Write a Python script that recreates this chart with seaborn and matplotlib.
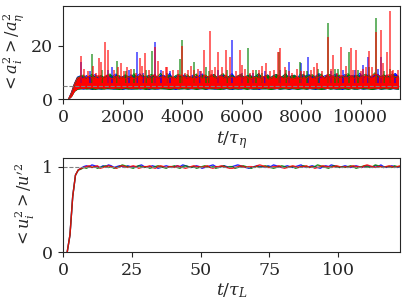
import numpy as np
import matplotlib
matplotlib.use("Agg")
import matplotlib.pyplot as plt
import seaborn as sns

# acceleration variance: the dense part of each signal is kept as its
# lower/upper envelope every 100 tau_eta (from t=180), the bursts as spikes
a_t0, a_dt = 180, 100
red_lo = [0.0, 1.0, 3.0, 3.9, 4.1, 4.0, 4.2, 4.1, 4.3, 4.0, 4.1, 4.2, 4.0, 4.3,
          4.1, 4.0, 4.2, 4.1, 4.0, 4.3, 4.2, 4.0, 4.1, 4.2, 4.0, 4.1, 4.3, 4.0,
          4.2, 4.1, 4.0, 4.2, 4.3, 4.1, 4.0, 4.2, 4.1, 4.0, 4.3, 4.1, 4.2, 4.0,
          4.1, 4.2, 4.0, 4.3, 4.1, 4.0, 4.2, 4.1, 4.0, 4.2, 4.1, 4.3, 4.0, 4.1,
          4.2, 4.0, 4.1, 4.3, 4.2, 4.0, 4.1, 4.2, 4.0, 4.1, 4.3, 4.0, 4.2, 4.1,
          4.0, 4.2, 4.3, 4.1, 4.0, 4.2, 4.1, 4.0, 4.3, 4.1, 4.2, 4.0, 4.1, 4.2,
          4.0, 4.3, 4.1, 4.0, 4.2, 4.1, 4.0, 4.2, 4.1, 4.3, 4.0, 4.1, 4.2, 4.0,
          4.1, 4.3, 4.2, 4.0, 4.1, 4.2, 4.0, 4.1, 4.3, 4.0, 4.2, 4.1, 4.0, 4.2]
red_hi = [0.0, 2.4, 5.6, 7.9, 8.3, 7.6, 8.1, 8.7, 7.8, 8.2, 8.9, 7.7, 8.4, 9.0,
          8.0, 7.6, 8.5, 7.9, 8.3, 7.5, 8.1, 8.6, 7.7, 8.2, 8.9, 7.8, 8.3, 7.5,
          8.7, 9.2, 7.9, 8.2, 8.5, 7.6, 8.0, 8.4, 7.7, 8.8, 9.1, 7.9, 8.1, 8.3,
          7.6, 8.6, 8.0, 7.8, 8.9, 8.2, 9.3, 7.7, 8.1, 8.7, 7.9, 9.0, 7.6, 8.3,
          8.0, 8.8, 7.8, 8.2, 8.5, 7.5, 7.9, 8.3, 7.7, 8.1, 8.6, 7.4, 7.8, 8.4,
          7.6, 8.9, 8.0, 7.7, 8.2, 7.5, 7.9, 8.3, 7.6, 8.1, 7.8, 8.5, 7.7, 8.0,
          8.2, 8.6, 7.9, 9.2, 8.1, 8.7, 7.8, 8.3, 8.9, 8.0, 8.2, 8.8, 7.7, 8.5,
          7.9, 8.3, 8.7, 8.1, 8.6, 9.4, 9.1, 8.0, 8.4, 8.9, 9.2, 8.1, 8.5, 8.2]
blue_lo = [0.0, 1.1, 3.1, 3.8, 3.9, 3.7, 4.0, 3.8, 3.6, 3.9, 3.8, 3.7, 4.0, 3.8,
           3.9, 3.7, 3.8, 4.0, 3.6, 3.8, 3.9, 3.7, 3.8, 4.0, 3.7, 3.9, 3.8, 3.6,
           3.9, 3.8, 3.7, 4.0, 3.8, 3.9, 3.7, 3.8, 3.6, 3.9, 3.8, 4.0, 3.7, 3.8,
           3.9, 3.7, 3.8, 4.0, 3.6, 3.8, 3.9, 3.7, 3.8, 4.0, 3.7, 3.9, 3.8, 3.6,
           3.9, 3.8, 3.7, 4.0, 3.8, 3.9, 3.7, 3.8, 3.6, 3.9, 3.8, 4.0, 3.7, 3.8,
           3.9, 3.7, 3.8, 4.0, 3.6, 3.8, 3.9, 3.7, 3.8, 4.0, 3.7, 3.9, 3.8, 3.6,
           3.9, 3.8, 3.7, 4.0, 3.8, 3.9, 3.7, 3.8, 3.6, 3.9, 3.8, 4.0, 3.7, 3.8,
           3.9, 3.7, 3.8, 4.0, 3.6, 3.8, 3.9, 3.7, 3.8, 4.0, 3.7, 3.9, 3.8, 3.7]
blue_hi = [0.0, 2.6, 5.9, 8.3, 8.8, 7.8, 8.9, 8.0, 8.5, 9.3, 7.9, 8.7, 8.1, 9.1,
           8.0, 8.8, 9.5, 7.9, 8.4, 8.9, 7.8, 9.2, 8.2, 8.6, 9.6, 8.0, 8.5, 8.9,
           8.1, 9.4, 7.9, 8.7, 9.0, 8.3, 9.7, 8.0, 8.6, 8.9, 8.2, 9.2, 7.9, 8.5,
           9.1, 8.1, 8.8, 9.5, 8.0, 8.4, 8.9, 9.3, 8.1, 8.7, 9.0, 7.9, 8.6, 9.6,
           8.2, 8.5, 9.2, 8.0, 8.8, 9.0, 8.3, 8.6, 9.4, 7.9, 8.7, 9.1, 8.1, 8.9,
           9.3, 8.0, 8.5, 9.5, 8.2, 8.8, 9.0, 7.9, 9.6, 8.4, 8.9, 9.2, 8.1, 8.6,
           9.4, 8.0, 8.7, 9.1, 8.3, 8.9, 9.5, 8.1, 8.5, 9.3, 8.0, 8.8, 9.0, 8.4,
           9.8, 8.2, 8.7, 9.2, 8.1, 8.9, 9.4, 8.3, 8.6, 9.1, 8.1, 8.9, 9.6, 8.4]
green_lo = [0.0, 1.0, 2.9, 3.7, 3.8, 4.0, 3.7, 3.9, 3.8, 3.6, 3.9, 3.8, 3.7, 4.0,
            3.8, 3.9, 3.7, 3.6, 3.8, 4.0, 3.7, 3.9, 3.8, 3.7, 4.0, 3.8, 3.6, 3.9,
            3.8, 3.7, 4.0, 3.8, 3.9, 3.7, 3.6, 3.8, 4.0, 3.7, 3.9, 3.8, 3.7, 4.0,
            3.8, 3.6, 3.9, 3.8, 3.7, 4.0, 3.8, 3.9, 3.7, 3.6, 3.8, 4.0, 3.7, 3.9,
            3.8, 3.7, 4.0, 3.8, 3.6, 3.9, 3.8, 3.7, 4.0, 3.8, 3.9, 3.7, 3.6, 3.8,
            4.0, 3.7, 3.9, 3.8, 3.7, 4.0, 3.8, 3.6, 3.9, 3.8, 3.7, 4.0, 3.8, 3.9,
            3.7, 3.6, 3.8, 4.0, 3.7, 3.9, 3.8, 3.7, 4.0, 3.8, 3.6, 3.9, 3.8, 3.7,
            4.0, 3.8, 3.9, 3.7, 3.6, 3.8, 4.0, 3.7, 3.9, 3.8, 3.7, 4.0, 3.8, 3.7]
green_hi = [0.0, 2.3, 5.7, 8.1, 8.6, 9.1, 7.9, 8.7, 9.4, 8.1, 8.4, 9.0, 8.0, 8.8,
            9.5, 8.2, 8.5, 8.9, 7.9, 9.2, 8.6, 8.1, 9.6, 8.3, 8.7, 9.1, 8.0, 8.9,
            9.3, 8.1, 8.6, 9.7, 8.2, 8.5, 9.0, 8.0, 8.8, 9.4, 8.3, 8.7, 9.2, 8.1,
            8.4, 9.5, 7.9, 8.9, 9.1, 8.3, 8.6, 9.3, 8.0, 8.9, 9.6, 8.2, 8.5, 9.0,
            8.1, 8.8, 9.4, 8.3, 8.6, 9.2, 8.0, 8.7, 9.7, 8.2, 8.5, 9.1, 8.1, 8.9,
            9.3, 8.3, 8.6, 9.6, 8.0, 8.8, 9.0, 8.2, 8.5, 9.4, 8.1, 8.9, 9.2, 8.3,
            8.7, 9.5, 8.0, 8.9, 9.3, 8.2, 8.5, 9.1, 8.1, 8.8, 9.6, 8.3, 8.6, 9.0,
            8.2, 8.9, 9.4, 8.1, 8.7, 9.9, 8.3, 8.5, 9.2, 8.2, 8.8, 9.5, 8.1, 8.7]

red_spike_t = [600, 1220, 1290, 1400, 1520, 1960, 2150, 2575, 2740, 3075, 3200,
               3500, 3700, 4000, 4200, 4400, 4740, 4940, 5100, 5200, 5470, 5600,
               5950, 6000, 6400, 6830, 7215, 7300, 7600, 8000, 8530, 8890, 9080,
               9330, 9670, 9840, 10200, 10300, 10510, 10680, 10750, 10880, 10990,
               11100,
               700, 850, 1000, 1100, 1700, 1850, 2050, 2300, 2450, 2650, 2900,
               3350, 3450, 3850, 4100, 4300, 4550, 4650, 5000, 5350, 5800, 6100,
               6300, 6600, 6700, 6950, 7100, 7450, 7700, 7850, 8100, 8350, 8450,
               8700, 9000, 9200, 9500, 9750, 10000, 10100, 10400, 11050, 11250]
red_spike_v = [16.3, 15.3, 14.0, 21.6, 18.5, 13.5, 12.0, 15.3, 17.5, 19.7, 14.5,
               12.0, 11.0, 20.0, 11.0, 11.0, 18.5, 25.7, 12.0, 17.9, 18.5, 15.7,
               18.5, 13.0, 11.0, 13.5, 17.9, 19.3, 10.5, 10.5, 13.5, 23.5, 16.6,
               19.5, 19.4, 18.5, 12.0, 18.0, 25.4, 26.0, 13.5, 17.6, 33.2, 11.0,
               11.5, 10.5, 12.5, 10.0, 11.0, 12.0, 10.5, 11.5, 10.0, 12.5, 11.0,
               10.5, 12.0, 11.0, 10.0, 12.5, 11.5, 10.5, 11.0, 12.0, 10.5, 11.5,
               10.0, 11.0, 12.5, 10.5, 11.0, 12.0, 10.0, 11.5, 10.5, 11.0, 12.0,
               10.5, 11.5, 10.0, 12.5, 11.0, 10.5, 11.5, 12.0, 10.5, 11.0]
blue_spike_t = [600, 1630, 2200, 2500, 3075, 3600, 5690, 6400, 7600, 8010, 8240,
                9400, 10070, 10260, 10700, 11160,
                900, 1500, 2700, 3300, 4600, 5200, 6000, 6800, 7300, 8600, 9000,
                9800, 10600]
blue_spike_v = [14.0, 12.0, 11.0, 17.6, 21.6, 10.5, 22.3, 10.0, 14.0, 13.5, 15.7,
                11.0, 13.0, 16.0, 16.0, 10.0,
                10.5, 11.0, 10.0, 11.0, 10.5, 11.0, 10.0, 10.5, 11.0, 10.0, 10.5,
                11.0, 11.5]
green_spike_t = [965, 1800, 2375, 2990, 3940, 4000, 4400, 4800, 6210, 6500, 7270,
                 7970, 8570, 8900, 9130, 9240, 9600, 10300, 10520, 11000,
                 1300, 2100, 2800, 3500, 4900, 5500, 6700, 7500, 8200, 9900, 10800]
green_spike_v = [17.0, 14.3, 11.5, 18.0, 15.0, 22.3, 14.0, 12.0, 19.1, 11.0, 17.9,
                 14.0, 11.5, 28.6, 11.5, 11.5, 17.9, 12.0, 30.4, 11.5,
                 11.0, 10.5, 11.0, 10.0, 10.5, 11.0, 10.0, 11.0, 10.5, 11.0, 10.5]
a_ref = 5.0

# velocity variance, sampled every tau_L starting at 1.5
u_t0, u_dt = 1.5, 1.0
u_red = [0.0, 0.2, 0.65, 0.9, 0.96, 0.98, 0.99, 1.0, 1.01, 0.99,
         1.0, 1.01, 0.98, 0.99, 1.0, 1.01, 1.0, 0.99, 0.98, 1.0,
         1.01, 1.0, 0.99, 1.0, 1.01, 1.0, 0.98, 0.99, 1.0, 1.0,
         1.01, 0.99, 0.98, 1.0, 1.01, 1.0, 0.99, 1.0, 1.0, 0.99,
         1.01, 1.0, 0.99, 0.98, 0.99, 1.0, 1.01, 1.0, 1.0, 0.99,
         1.0, 1.01, 0.99, 0.98, 1.0, 1.0, 1.01, 1.0, 0.99, 0.98,
         0.98, 0.99, 1.0, 1.01, 1.0, 0.99, 1.0, 1.0, 0.99, 1.01,
         1.02, 1.01, 1.0, 0.99, 0.99, 1.0, 1.0, 1.01, 0.99, 0.98,
         0.99, 1.0, 1.01, 1.0, 0.99, 1.0, 1.0, 1.01, 0.99, 1.0,
         0.98, 0.99, 1.0, 1.01, 1.0, 1.0, 0.99, 1.0, 1.01, 1.0,
         0.99, 1.0, 0.99, 1.0, 1.01, 1.0, 1.0, 0.99, 1.01, 1.02,
         1.01, 1.0, 0.99, 1.0, 1.0, 0.99, 1.0, 1.01, 1.0, 0.99,
         1.0, 1.01]
u_blue = [0.0, 0.2, 0.65, 0.9, 0.96, 0.98, 1.0, 1.01, 1.0, 1.02,
          1.01, 1.0, 0.99, 1.01, 1.0, 1.02, 1.01, 0.99, 1.0, 1.01,
          1.0, 0.99, 1.01, 1.0, 1.0, 0.99, 1.01, 1.02, 1.0, 0.99,
          1.0, 1.01, 1.0, 0.98, 0.99, 1.0, 1.01, 1.0, 0.99, 1.0,
          1.01, 1.0, 1.02, 1.01, 1.0, 0.99, 1.0, 1.01, 1.0, 0.98,
          0.99, 1.0, 1.01, 1.02, 1.0, 0.99, 1.0, 1.01, 1.0, 0.99,
          1.0, 1.01, 1.02, 1.01, 1.0, 0.99, 0.98, 0.99, 1.0, 1.01,
          1.0, 1.0, 0.99, 1.01, 1.0, 1.02, 1.01, 1.0, 0.99, 1.0,
          1.01, 1.0, 0.99, 1.0, 1.01, 1.02, 1.0, 0.99, 1.0, 1.01,
          1.0, 0.99, 0.98, 1.0, 1.01, 1.0, 1.02, 1.01, 1.0, 0.99,
          1.0, 1.01, 1.0, 0.99, 1.0, 1.01, 1.0, 0.99, 1.0, 1.01,
          1.0, 0.99, 1.01, 1.0, 1.02, 1.0, 0.99, 1.0, 1.01, 1.0,
          0.99, 1.0]
u_green = [0.0, 0.2, 0.65, 0.9, 0.96, 0.97, 0.99, 0.98, 1.0, 0.99,
           1.0, 0.98, 0.99, 1.0, 1.01, 0.99, 1.0, 0.98, 0.99, 1.0,
           1.02, 1.01, 1.0, 0.99, 0.98, 1.0, 1.01, 1.0, 0.99, 1.0,
           0.98, 0.99, 1.0, 1.01, 1.0, 0.99, 0.98, 1.0, 1.0, 1.01,
           0.99, 0.98, 1.0, 1.01, 1.0, 0.99, 1.0, 0.98, 0.99, 1.0,
           1.01, 1.0, 0.99, 1.0, 0.98, 0.99, 1.0, 1.01, 0.99, 1.0,
           1.0, 0.98, 0.99, 1.0, 1.01, 1.0, 0.99, 0.98, 1.0, 1.0,
           0.99, 1.0, 1.01, 1.0, 0.99, 0.98, 0.99, 1.0, 1.01, 1.0,
           0.99, 1.0, 1.0, 0.98, 0.99, 1.0, 1.01, 1.0, 0.99, 1.0,
           1.0, 1.02, 1.01, 1.0, 0.99, 0.98, 1.0, 1.01, 1.0, 0.99,
           1.0, 0.99, 1.0, 1.01, 1.0, 0.98, 0.99, 1.0, 1.01, 1.0,
           0.99, 1.0, 1.02, 1.01, 1.0, 0.99, 1.0, 1.0, 0.99, 1.01,
           1.0, 1.0]
u_ref = 1.0

colors = ["blue", "green", "red"]

sns.set_style("ticks")
plt.rcParams["font.family"] = ["DejaVu Serif"]
plt.rcParams["mathtext.fontset"] = "dejavuserif"
plt.rcParams["font.size"] = 12.5

fig = plt.figure(figsize=(4.07, 3.04), dpi=100)
ax1 = fig.add_axes([0.155, 0.674, 0.828, 0.306])
ax2 = fig.add_axes([0.155, 0.171, 0.828, 0.309])

#top panel: envelope band + bursts for each component
bands = [(blue_lo, blue_hi), (green_lo, green_hi), (red_lo, red_hi)]
spikes = [(blue_spike_t, blue_spike_v), (green_spike_t, green_spike_v),
          (red_spike_t, red_spike_v)]
for (lo, hi), (st, sv), c in zip(bands, spikes, colors):
    x = a_t0 + a_dt * np.arange(len(lo))
    ax1.vlines(st, 6, sv, color=c, lw=1.2, alpha=0.7)
    ax1.fill_between(x, lo, hi, color=c, lw=0)
    sns.lineplot(x=x, y=hi, color=c, lw=0.6, ax=ax1)
ax1.axhline(a_ref, ls="--", color="gray", lw=0.8, zorder=5)
ax1.set_xlim(0, 11330)
ax1.set_ylim(0, 35)
ax1.set_yticks([0, 20])
ax1.set_xticks([0, 2000, 4000, 6000, 8000, 10000])
ax1.set_xlabel(r"$t/\tau_\eta$", labelpad=2)
ax1.set_ylabel(r"$<a_i^2>/a_\eta^2$", fontsize=11.5)

#bottom panel
for vals, c in zip([u_blue, u_green, u_red], colors):
    x = u_t0 + u_dt * np.arange(len(vals))
    sns.lineplot(x=x, y=vals, color=c, lw=1.0, alpha=0.85, ax=ax2)
ax2.axhline(u_ref, ls="--", color="gray", lw=0.8)
ax2.set_xlim(0, 122.5)
ax2.set_ylim(0, 1.1)
ax2.set_yticks([0, 1])
ax2.set_xticks([0, 25, 50, 75, 100])
ax2.set_xlabel(r"$t/\tau_L$", labelpad=2)
ax2.set_ylabel(r"$<u_i^2>/u'^2$", fontsize=11.5)

for ax in [ax1, ax2]:
    for s in ax.spines.values():
        s.set_visible(True)

fig.savefig("out.png", dpi=100)
